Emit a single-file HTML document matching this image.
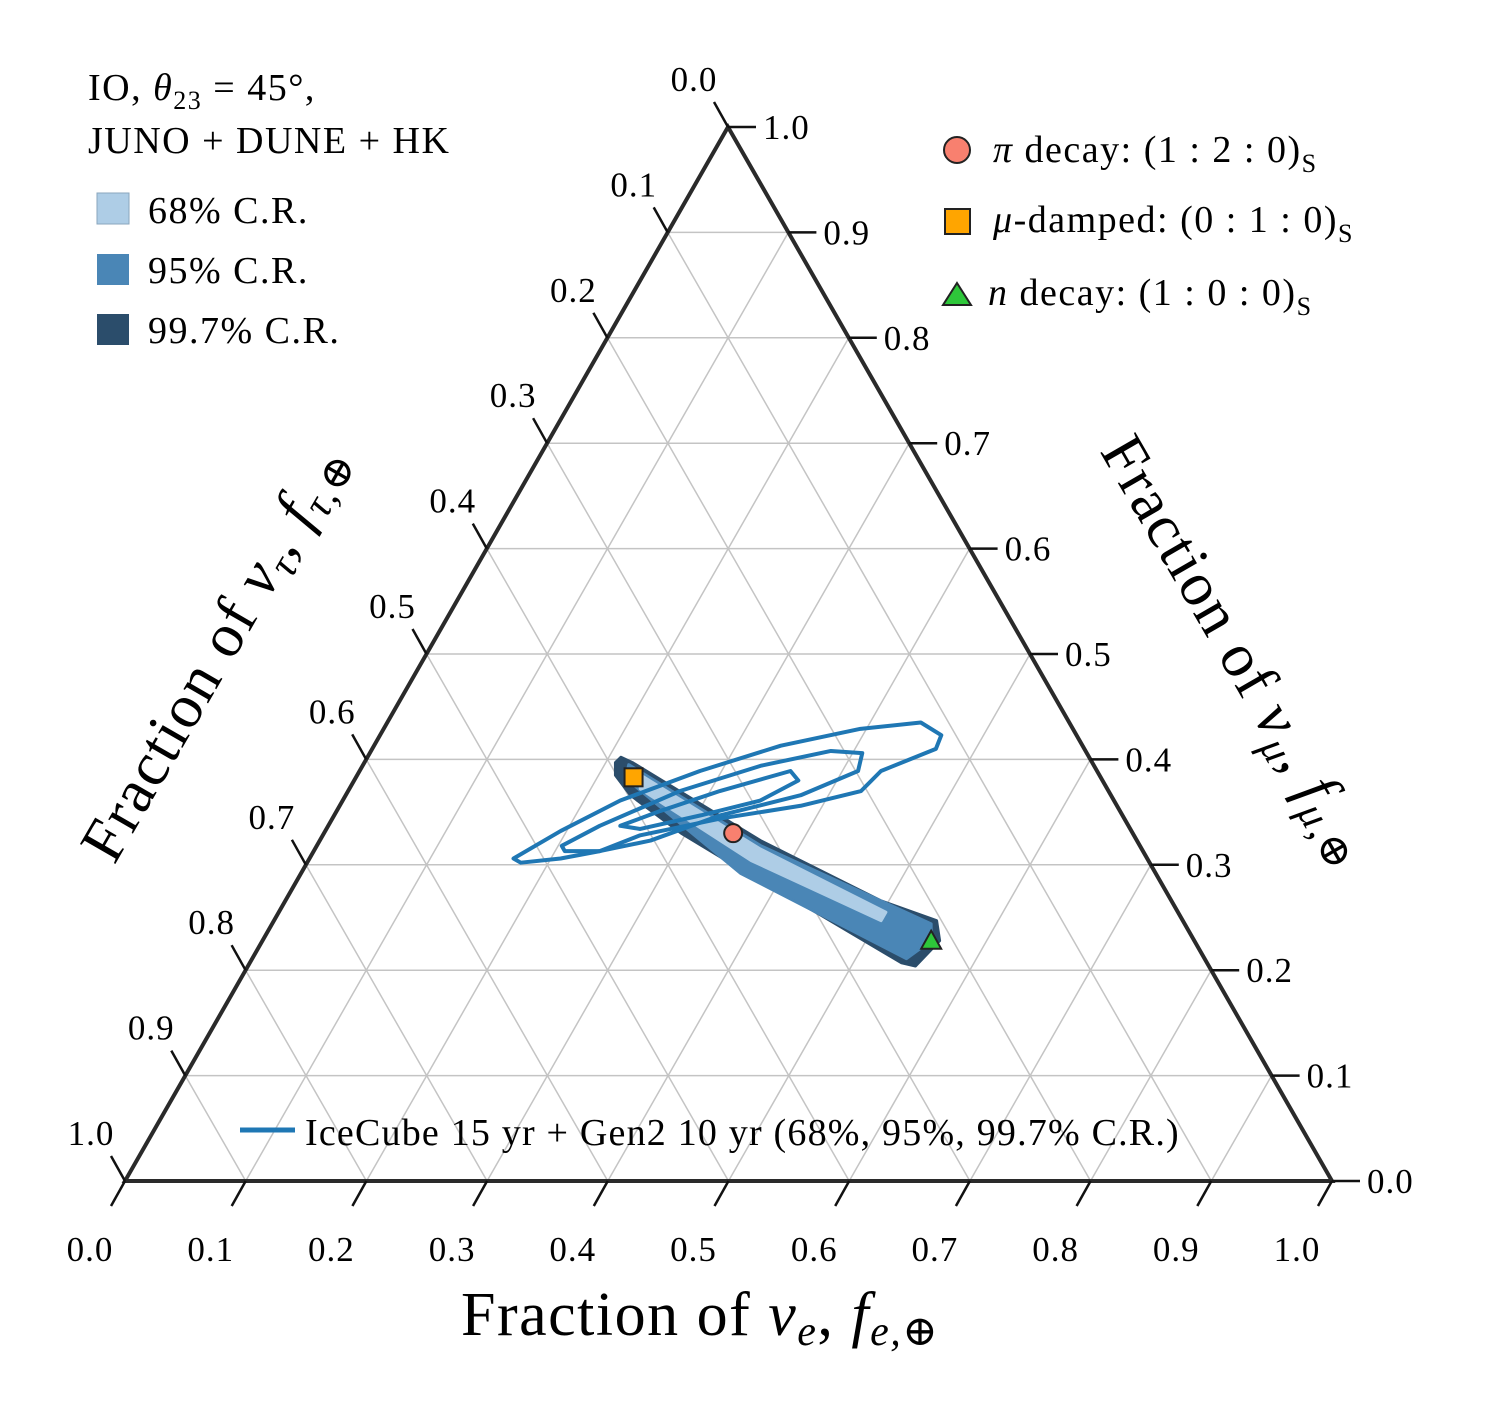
<!DOCTYPE html>
<html><head><meta charset="utf-8"><style>
html,body{margin:0;padding:0;background:#fff;}
svg{display:block;font-family:"Liberation Serif","DejaVu Serif",serif;}
</style></head><body>
<svg id="chart" width="1500" height="1425" viewBox="0 0 1500 1425" xmlns="http://www.w3.org/2000/svg">
<g id="grid"></g>
<g id="regions"></g>
<g id="contours"></g>
<g id="axes"></g>
<g id="markers"></g>

<text x="700" y="1335" font-size="62" letter-spacing="1.5" text-anchor="middle">Fraction of <tspan font-style="italic">ν</tspan><tspan font-style="italic" font-size="42" dy="10">e</tspan><tspan dy="-10">, </tspan><tspan font-style="italic">f</tspan><tspan font-style="italic" font-size="42" dy="10">e,</tspan><tspan font-size="42">⊕</tspan></text>
<text transform="translate(232,662) rotate(-60)" font-size="62" letter-spacing="1.5" text-anchor="middle">Fraction of <tspan font-style="italic">ν</tspan><tspan font-style="italic" font-size="42" dy="10">τ</tspan><tspan dy="-10">, </tspan><tspan font-style="italic">f</tspan><tspan font-style="italic" font-size="42" dy="10">τ,</tspan><tspan font-size="42">⊕</tspan></text>
<text transform="translate(1220,660) rotate(60)" font-size="62" letter-spacing="1.5" text-anchor="middle">Fraction of <tspan font-style="italic">ν</tspan><tspan font-style="italic" font-size="42" dy="10">μ</tspan><tspan dy="-10">, </tspan><tspan font-style="italic">f</tspan><tspan font-style="italic" font-size="42" dy="10">μ,</tspan><tspan font-size="42">⊕</tspan></text>

<g font-size="38" letter-spacing="1.5">
<text x="88" y="100">IO, <tspan font-style="italic">θ</tspan><tspan font-size="26" dy="9">23</tspan><tspan dy="-9"> = 45°,</tspan></text>
<text x="88" y="153">JUNO + DUNE + HK</text>
<rect x="97" y="193" width="32" height="31" fill="#aecde6" stroke="#8aa6bd" stroke-width="1"/>
<text x="148" y="223">68% C.R.</text>
<rect x="97" y="254" width="32" height="31" fill="#4a86b6"/>
<text x="148" y="283">95% C.R.</text>
<rect x="97" y="314" width="32" height="31" fill="#2b4d6b"/>
<text x="148" y="343">99.7% C.R.</text>
</g>

<g font-size="38" letter-spacing="1.5">
<circle cx="957" cy="150" r="13" fill="#f8806f" stroke="#222" stroke-width="2"/>
<text x="993" y="162"><tspan font-style="italic">π</tspan> decay: (1 : 2 : 0)<tspan font-size="26" dy="10">S</tspan></text>
<rect x="945" y="209" width="25" height="25" fill="#ffa500" stroke="#222" stroke-width="2"/>
<text x="993" y="232"><tspan font-style="italic">μ</tspan>-damped: (0 : 1 : 0)<tspan font-size="26" dy="10">S</tspan></text>
<polygon points="957,283 971,305 943,305" fill="#2ec73a" stroke="#222" stroke-width="2"/>
<text x="988" y="305"><tspan font-style="italic">n</tspan> decay: (1 : 0 : 0)<tspan font-size="26" dy="10">S</tspan></text>
</g>

<g>
<line x1="240" y1="1130" x2="295" y2="1130" stroke="#1f77b4" stroke-width="5"/>
<text x="305" y="1145" font-size="38" letter-spacing="1.2">IceCube 15 yr + Gen2 10 yr (68%, 95%, 99.7% C.R.)</text>
</g>
</svg>

<script>
// ternary data: [f_e, f_mu]
const ticks = [0,0.1,0.2,0.3,0.4,0.5,0.6,0.7,0.8,0.9,1.0];
const tickLabels = ["0.0","0.1","0.2","0.3","0.4","0.5","0.6","0.7","0.8","0.9","1.0"];
const region997 = [[0.210,0.402],[0.222,0.397],[0.365,0.323],[0.493,0.266],[0.549,0.247],[0.561,0.228],[0.553,0.204],[0.540,0.207],[0.451,0.252],[0.362,0.296],[0.296,0.330],[0.236,0.366],[0.214,0.385],[0.208,0.397]];
const region95 = [[0.220,0.395],[0.368,0.318],[0.546,0.244],[0.554,0.228],[0.542,0.211],[0.364,0.292],[0.224,0.382]];
const region68 = [[0.235,0.385],[0.369,0.315],[0.503,0.255],[0.503,0.247],[0.367,0.304],[0.241,0.372]];
const ic997 = [[0.169,0.306],[0.195,0.332],[0.230,0.361],[0.282,0.389],[0.337,0.413],[0.395,0.429],[0.442,0.435],[0.465,0.423],[0.467,0.410],[0.432,0.389],[0.425,0.370],[0.382,0.356],[0.322,0.344],[0.263,0.328],[0.237,0.313],[0.208,0.306],[0.177,0.302]];
const ic95 = [[0.203,0.318],[0.225,0.337],[0.275,0.370],[0.330,0.394],[0.381,0.408],[0.408,0.406],[0.413,0.389],[0.377,0.366],[0.320,0.347],[0.274,0.323],[0.237,0.313],[0.208,0.313]];
const ic68 = [[0.242,0.337],[0.268,0.351],[0.308,0.370],[0.357,0.389],[0.368,0.380],[0.346,0.361],[0.304,0.347],[0.260,0.334]];
const markerNames = ["pi-decay","mu-damped","n-decay"];
const markerFe = [0.339,0.230,0.554];
const markerFmu = [0.330,0.383,0.228];

const NS="http://www.w3.org/2000/svg";
const BL=[125,1181], BR=[1332,1181], TP=[728,127];
function P(fe,fmu){const ft=1-fe-fmu;return [fe*BR[0]+fmu*TP[0]+ft*BL[0], fe*BR[1]+fmu*TP[1]+ft*BL[1]];}
function mk(tag,attrs,parent){const e=document.createElementNS(NS,tag);for(const k in attrs)e.setAttribute(k,attrs[k]);parent.appendChild(e);return e;}
const grid=document.getElementById('grid'),axes=document.getElementById('axes');
for(let i=1;i<ticks.length-1;i++){const t=ticks[i];
 let a=P(t,0),b=P(t,1-t);let l=mk('line',{x1:a[0],y1:a[1],x2:b[0],y2:b[1],stroke:'#c4c4c4','stroke-width':1.5},grid);
 
 
 a=P(0,t);b=P(1-t,t);l=mk('line',{x1:a[0],y1:a[1],x2:b[0],y2:b[1],stroke:'#c4c4c4','stroke-width':1.5},grid);
 
 
 a=P(0,1-t);b=P(1-t,0);l=mk('line',{x1:a[0],y1:a[1],x2:b[0],y2:b[1],stroke:'#c4c4c4','stroke-width':1.5},grid);
 
 
}
const tri=mk('polygon',{points:[BL,BR,TP].map(p=>p.join(',')).join(' '),fill:'none',stroke:'#2a2a2a','stroke-width':4,'stroke-linejoin':'miter'},axes);


for(let i=0;i<ticks.length;i++){const t=ticks[i];
 let a=P(t,0);let l=mk('line',{x1:a[0],y1:a[1],x2:a[0]-14,y2:a[1]+25,stroke:'#111','stroke-width':2.5},axes);
 
 
 let tx=mk('text',{x:a[0]-35,y:a[1]+80,'font-size':35,'letter-spacing':1,'text-anchor':'middle'},axes);tx.textContent=tickLabels[i];
 
 
 a=P(1-t,t);l=mk('line',{x1:a[0],y1:a[1],x2:a[0]+28,y2:a[1],stroke:'#111','stroke-width':2.5},axes);
 
 
 tx=mk('text',{x:a[0]+35,y:a[1]+12,'font-size':35,'letter-spacing':1},axes);tx.textContent=tickLabels[i];
 
 
 a=P(0,1-t);l=mk('line',{x1:a[0],y1:a[1],x2:a[0]-14,y2:a[1]-25,stroke:'#111','stroke-width':2.5},axes);
 
 
 tx=mk('text',{x:a[0]-34,y:a[1]-36,'font-size':35,'letter-spacing':1,'text-anchor':'middle'},axes);tx.textContent=tickLabels[i];
 
 
}
const regions=document.getElementById('regions');
[[region997,'#2b4d6b','region-99-7'],[region95,'#4a86b6','region-95'],[region68,'#aecde6','region-68']].forEach(r=>{
 const pg=mk('polygon',{points:r[0].map(d=>P(d[0],d[1]).join(',')).join(' '),fill:r[1],'stroke-linejoin':'round',stroke:r[1],'stroke-width':3},regions);
 
 
});
const cont=document.getElementById('contours');
[[ic997,'icecube-contour-99-7'],[ic95,'icecube-contour-95'],[ic68,'icecube-contour-68']].forEach(c=>{
 const pg=mk('polygon',{points:c[0].map(d=>P(d[0],d[1]).join(',')).join(' '),fill:'none',stroke:'#1f77b4','stroke-width':4,'stroke-linejoin':'round'},cont);
 
 
});
const mg=document.getElementById('markers');
for(let i=0;i<markerNames.length;i++){const p=P(markerFe[i],markerFmu[i]);let e;
 if(i===0)e=mk('circle',{cx:p[0],cy:p[1],r:9,fill:'#f8806f',stroke:'#222','stroke-width':2},mg);
 else if(i===1)e=mk('rect',{x:p[0]-9,y:p[1]-9,width:18,height:18,fill:'#ffa500',stroke:'#222','stroke-width':2},mg);
 else e=mk('polygon',{points:`${p[0]},${p[1]-10} ${p[0]+10},${p[1]+8} ${p[0]-10},${p[1]+8}`,fill:'#2ec73a',stroke:'#222','stroke-width':2},mg);
 
 
}
</script>
</body></html>
